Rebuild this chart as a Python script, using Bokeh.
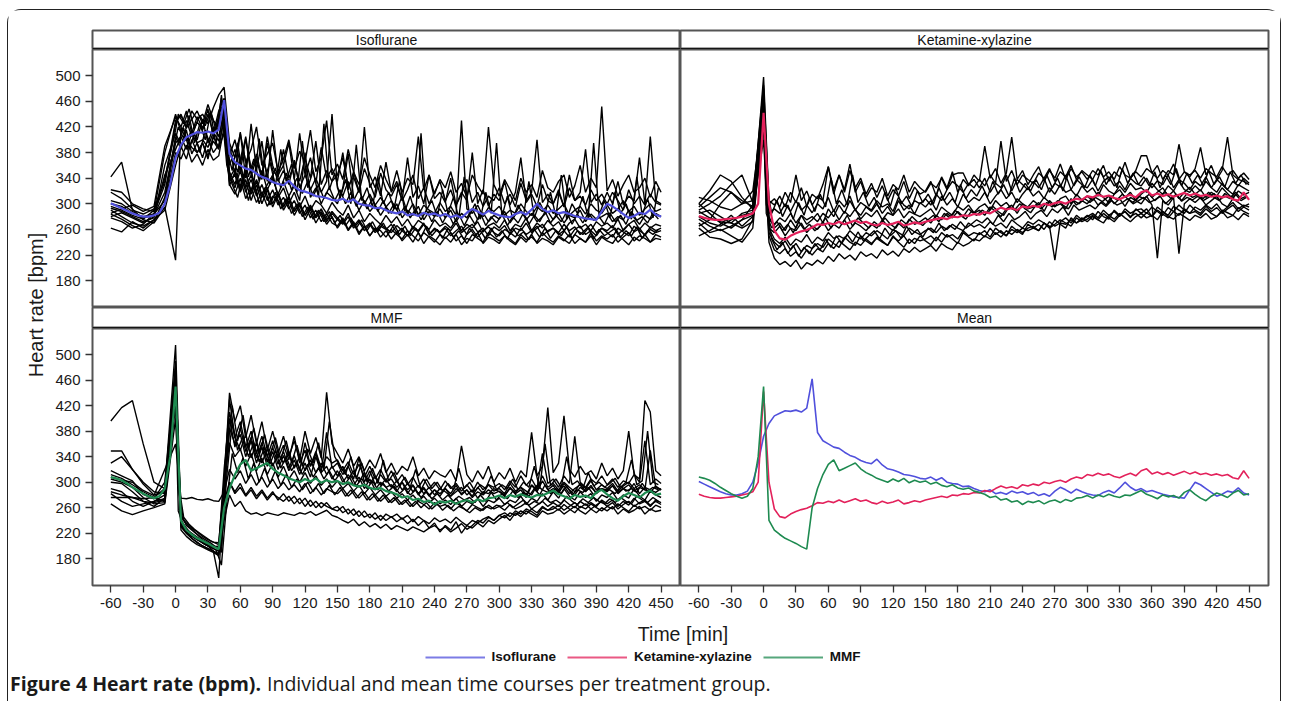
import math
from bokeh.plotting import figure
from bokeh.models import Range1d, FixedTicker, Label, Legend, LegendItem, Span, ColumnDataSource
from bokeh.layouts import column, row
from bokeh.embed import file_html
from bokeh.resources import INLINE

# ---------------- data ----------------
PRE_T = [-60, -50, -40, -30, -20, -10]
POST_T = list(range(0, 455, 5))
IND_T = PRE_T + POST_T                                   # animals sampled on the 5-min grid
OFF_T = PRE_T + [0] + [t + 2.5 for t in range(0, 450, 5)]  # animals sampled on the shifted grid
MEAN_T = list(range(-60, 455, 5))

X_TICKS = list(range(-60, 451, 30))
Y_TICKS = [180, 220, 260, 300, 340, 380, 420, 460, 500]

PANEL_TITLES = ["Isoflurane", "Ketamine-xylazine", "MMF", "Mean"]
GROUPS = ["Isoflurane", "Ketamine-xylazine", "MMF"]

ISO_MEAN = [301, 297, 293, 289, 285, 282, 280, 280, 282, 286, 300, 330,
            372, 392, 404, 408, 412, 411, 413, 410, 416, 462,
            378, 365, 360, 355, 353, 347, 342, 339, 334, 331,
            329, 336, 327, 321, 319, 316, 312, 311, 309, 306,
            305, 308, 303, 307, 300, 298, 297, 293, 294, 290,
            287, 285, 288, 282, 284, 281, 286, 283, 285, 281,
            284, 279, 282, 278, 286, 292, 288, 283, 289, 285,
            282, 280, 279, 284, 287, 283, 291, 300, 292, 287,
            290, 285, 287, 284, 281, 279, 277, 276, 275, 288,
            300, 296, 290, 284, 278, 281, 286, 284, 291, 283,
            280]
KET_MEAN = [281, 278, 276, 275, 275, 276, 277, 278, 280, 282, 285, 300,
            442, 300, 258, 246, 244, 250, 254, 257, 259, 263,
            268, 267, 270, 268, 272, 268, 271, 274, 270, 272,
            268, 266, 270, 267, 269, 272, 266, 268, 271, 269,
            272, 274, 276, 278, 276, 280, 279, 282, 281, 284,
            283, 287, 285, 290, 294, 291, 293, 290, 296, 294,
            297, 295, 300, 298, 301, 303, 300, 305, 308, 306,
            312, 310, 314, 311, 313, 309, 307, 311, 314, 310,
            318, 321, 313, 316, 312, 315, 311, 314, 317, 313,
            316, 312, 314, 311, 313, 310, 312, 307, 305, 318,
            306]
MMF_MEAN = [308, 306, 303, 298, 292, 287, 282, 278, 275, 278, 290, 340,
            450, 240, 225, 218, 212, 208, 204, 199, 195, 260,
            290, 312, 328, 335, 318, 322, 326, 330, 321, 315,
            311, 306, 303, 300, 305, 301, 306, 299, 303, 300,
            302, 297, 300, 295, 293, 296, 291, 289, 291, 286,
            284, 281, 276, 278, 272, 274, 269, 271, 265, 270,
            268, 271, 266, 270, 272, 268, 273, 270, 275, 276,
            279, 275, 280, 277, 281, 278, 276, 280, 279, 283,
            287, 281, 278, 274, 280, 277, 279, 275, 284, 288,
            281, 275, 271, 278, 283, 280, 276, 283, 287, 280,
            282]

# individual animals on IND_T: 6 pre-values (-60..-10) + 91 values (0..450 by 5)
ISO_1 = [342, 365, 290, 284, 292, 335,
         430, 438, 420, 445, 432, 440, 425, 450, 470, 482,
         395, 372, 410, 365, 385, 420, 360, 378, 395, 350,
         370, 400, 355, 382, 365, 415, 350, 372, 430, 345,
         362, 338, 385, 350, 330, 372, 345, 325, 360, 338,
         320, 352, 318, 340, 330, 405, 322, 345, 315, 338,
         325, 350, 318, 332, 310, 345, 328, 315, 420, 330,
         312, 338, 322, 305, 340, 318, 330, 310, 352, 325,
         318, 335, 345, 310, 328, 360, 318, 340, 325, 452,
         320, 338, 312, 330, 345, 318, 325, 340, 310, 335,
         318]
ISO_2 = [322, 318, 300, 292, 288, 380,
         440, 412, 430, 405, 428, 415, 440, 410, 445, 465,
         360, 385, 350, 402, 345, 370, 338, 395, 352, 342,
         385, 340, 362, 335, 372, 340, 398, 330, 352, 335,
         345, 372, 328, 342, 318, 355, 332, 310, 348, 322,
         312, 330, 305, 322, 345, 308, 325, 300, 318, 335,
         305, 322, 298, 315, 338, 302, 318, 296, 312, 305,
         325, 300, 315, 295, 332, 305, 318, 400, 302, 315,
         300, 318, 295, 325, 305, 312, 298, 322, 305, 315,
         300, 318, 305, 290, 322, 300, 312, 298, 405, 305,
         300]
ISO_3 = [318, 308, 292, 275, 270, 295,
         212, 420, 398, 415, 400, 432, 395, 420, 405, 445,
         350, 330, 362, 325, 345, 318, 352, 322, 340, 315,
         335, 312, 328, 305, 380, 310, 325, 300, 318, 310,
         300, 325, 378, 310, 290, 305, 288, 298, 282, 295,
         285, 300, 278, 290, 282, 296, 275, 288, 280, 292,
         278, 290, 272, 285, 278, 292, 275, 286, 272, 282,
         276, 288, 270, 283, 290, 275, 285, 272, 280, 288,
         275, 285, 270, 282, 278, 290, 272, 284, 276, 280,
         285, 272, 280, 275, 290, 278, 268, 282, 276, 285,
         280]
ISO_4 = [300, 296, 285, 280, 284, 305,
         395, 405, 385, 410, 395, 400, 388, 412, 398, 450,
         340, 355, 325, 348, 320, 338, 315, 330, 345, 310,
         325, 300, 318, 295, 312, 290, 305, 298, 285, 302,
         290, 282, 298, 278, 290, 272, 285, 276, 268, 282,
         270, 280, 265, 276, 262, 274, 268, 260, 275, 265,
         270, 262, 275, 258, 268, 262, 272, 256, 266, 270,
         262, 275, 258, 268, 264, 278, 258, 270, 262, 274,
         265, 272, 258, 270, 276, 262, 268, 258, 272, 265,
         270, 262, 276, 258, 268, 274, 260, 270, 262, 268,
         265]
ISO_5 = [293, 288, 280, 272, 278, 360,
         410, 392, 402, 388, 380, 395, 375, 398, 385, 440,
         330, 315, 340, 308, 325, 302, 318, 296, 312, 305,
         295, 312, 288, 302, 282, 298, 280, 292, 275, 288,
         278, 270, 285, 265, 275, 262, 270, 258, 268, 262,
         255, 266, 258, 250, 262, 256, 268, 252, 260, 255,
         262, 250, 258, 265, 252, 260, 248, 258, 264, 255,
         250, 260, 255, 248, 262, 252, 258, 265, 250, 258,
         262, 252, 258, 248, 260, 265, 252, 258, 250, 262,
         255, 248, 262, 256, 250, 265, 258, 252, 260, 255,
         258]
ISO_6 = [290, 280, 270, 265, 275, 300,
         380, 370, 392, 365, 378, 360, 385, 368, 375, 420,
         345, 325, 352, 318, 338, 312, 330, 305, 322, 298,
         310, 292, 305, 285, 298, 278, 290, 272, 285, 270,
         265, 278, 260, 272, 255, 265, 250, 262, 258, 248,
         260, 252, 245, 258, 250, 242, 255, 248, 240, 252,
         246, 255, 242, 250, 238, 252, 246, 240, 255, 248,
         242, 250, 245, 238, 252, 244, 248, 240, 255, 246,
         240, 250, 244, 238, 252, 246, 240, 255, 242, 250,
         245, 252, 240, 248, 255, 242, 250, 246, 240, 252,
         248]
ISO_7 = [278, 272, 262, 268, 285, 330,
         425, 440, 418, 432, 445, 425, 455, 430, 420, 460,
         375, 400, 362, 405, 350, 378, 342, 405, 360, 335,
         352, 330, 368, 325, 345, 322, 340, 318, 335, 440,
         325, 312, 335, 305, 322, 300, 315, 298, 310, 295,
         305, 290, 312, 285, 300, 282, 298, 290, 285, 302,
         288, 296, 282, 430, 292, 285, 298, 280, 294, 288,
         296, 282, 290, 285, 300, 288, 282, 295, 288, 298,
         285, 292, 300, 282, 290, 296, 284, 300, 290, 285,
         298, 285, 292, 305, 288, 296, 282, 292, 300, 288,
         292]
ISO_8 = [262, 256, 272, 262, 275, 290,
         360, 390, 370, 400, 380, 395, 370, 405, 388, 410,
         335, 345, 320, 352, 315, 335, 310, 325, 300, 318,
         295, 310, 288, 300, 282, 295, 278, 288, 272, 285,
         275, 268, 280, 262, 272, 258, 268, 255, 265, 260,
         268, 255, 262, 250, 265, 258, 270, 252, 262, 256,
         265, 258, 270, 255, 262, 268, 256, 262, 250, 264,
         258, 266, 252, 262, 258, 270, 255, 262, 268, 256,
         262, 255, 268, 258, 264, 252, 260, 268, 255, 262,
         258, 266, 252, 260, 268, 256, 262, 250, 264, 258,
         262]
ISO_9 = [285, 292, 298, 288, 296, 390,
         435, 420, 445, 410, 436, 418, 448, 405, 430, 455,
         390, 345, 412, 340, 425, 352, 398, 335, 415, 345,
         360, 395, 338, 410, 345, 372, 332, 388, 340, 355,
         335, 380, 322, 350, 318, 420, 325, 342, 312, 365,
         318, 335, 305, 372, 310, 328, 300, 345, 308, 318,
         302, 340, 298, 318, 305, 380, 300, 322, 296, 315,
         305, 335, 298, 318, 372, 302, 315, 296, 330, 305,
         300, 322, 296, 345, 305, 318, 385, 302, 315, 298,
         318, 300, 335, 298, 312, 305, 372, 300, 315, 302,
         298]
ISO_10 = [284, 276, 266, 258, 272, 310,
          405, 385, 415, 378, 395, 372, 402, 380, 392, 430,
          328, 350, 318, 338, 305, 330, 300, 322, 295, 315,
          290, 305, 282, 298, 275, 292, 270, 285, 268, 280,
          262, 275, 258, 270, 252, 265, 250, 262, 248, 258,
          245, 256, 242, 252, 240, 255, 238, 250, 244, 236,
          248, 240, 252, 236, 246, 242, 255, 238, 248, 244,
          238, 250, 242, 236, 248, 240, 252, 238, 246, 242,
          236, 248, 242, 252, 238, 246, 240, 250, 236, 248,
          242, 238, 250, 244, 236, 248, 242, 252, 240, 246,
          244]
# animals on OFF_T: 6 pre-values, value at 0, then 90 values (2.5..447.5 by 5)
ISO_11 = [305, 300, 288, 278, 282, 318, 400,
          420, 402, 438, 395, 425, 400, 442, 392, 470, 385,
          352, 395, 340, 378, 332, 402, 338, 365, 328, 385,
          335, 362, 318, 398, 325, 352, 312, 425, 322, 348,
          308, 338, 300, 392, 305, 325, 295, 342, 300, 318,
          292, 335, 288, 312, 282, 410, 290, 305, 280, 322,
          285, 310, 278, 342, 282, 300, 276, 318, 285, 395,
          280, 312, 276, 298, 282, 335, 278, 302, 285, 318,
          280, 345, 276, 300, 285, 312, 278, 395, 282, 305,
          278, 318, 285, 300, 276, 342, 282, 308, 278, 325]
ISO_12 = [280, 286, 278, 270, 280, 345, 385,
          395, 418, 385, 410, 380, 415, 390, 420, 452, 360,
          330, 310, 345, 305, 335, 300, 325, 298, 318, 292,
          308, 285, 300, 280, 295, 276, 290, 272, 288, 270,
          282, 266, 278, 262, 275, 258, 272, 256, 270, 254,
          268, 252, 265, 250, 262, 248, 265, 250, 260, 246,
          262, 248, 258, 244, 262, 250, 258, 245, 262, 248,
          258, 245, 262, 250, 256, 244, 260, 248, 262, 246,
          258, 250, 264, 246, 258, 252, 262, 245, 260, 250,
          256, 262, 248, 258, 250, 264, 246, 258, 252, 260]
ISO_13 = [296, 290, 282, 276, 290, 340, 415,
          440, 425, 448, 418, 438, 422, 445, 415, 465, 400,
          372, 350, 388, 342, 370, 336, 362, 330, 356, 325,
          348, 322, 340, 316, 335, 312, 330, 308, 326, 305,
          322, 300, 318, 296, 312, 292, 308, 288, 305, 285,
          300, 282, 296, 278, 292, 275, 290, 272, 288, 270,
          286, 268, 284, 266, 282, 268, 285, 266, 280, 270,
          284, 266, 280, 270, 286, 268, 282, 272, 288, 270,
          282, 272, 288, 268, 284, 270, 286, 274, 280, 268,
          286, 272, 282, 268, 288, 274, 280, 270, 286, 276]

KET_1 = [300, 320, 345, 335, 310, 292,
         498, 305, 298, 312, 295, 318, 302, 325, 296, 315,
         308, 330, 358, 322, 345, 318, 352, 325, 340, 315,
         332, 310, 328, 305, 322, 312, 335, 308, 326, 315,
         320, 335, 312, 342, 325, 350, 318, 338, 328, 345,
         335, 390, 340, 355, 332, 348, 404, 338, 352, 330,
         345, 358, 335, 352, 340, 362, 338, 355, 342, 350,
         338, 352, 345, 360, 335, 350, 342, 365, 340, 352,
         375, 375, 348, 360, 338, 352, 345, 393, 350, 342,
         355, 388, 345, 360, 338, 352, 404, 345, 338, 335,
         330]
KET_2 = [290, 300, 312, 330, 345, 302,
         470, 285, 292, 285, 300, 288, 305, 290, 298, 286,
         300, 292, 310, 288, 305, 295, 312, 290, 302, 296,
         290, 305, 295, 300, 288, 310, 298, 292, 305, 300,
         308, 298, 315, 305, 322, 345, 348, 348, 330, 338,
         325, 340, 318, 332, 325, 345, 320, 338, 330, 322,
         335, 325, 340, 318, 332, 326, 345, 322, 338, 330,
         325, 338, 320, 335, 342, 328, 335, 322, 340, 332,
         328, 340, 325, 336, 330, 345, 325, 338, 332, 322,
         335, 328, 342, 325, 338, 330, 322, 335, 328, 340,
         332]
KET_3 = [280, 270, 265, 275, 282, 286,
         455, 275, 268, 278, 272, 285, 270, 282, 275, 280,
         272, 285, 278, 290, 275, 288, 280, 292, 276, 286,
         280, 290, 275, 286, 282, 292, 278, 288, 284, 280,
         286, 292, 280, 295, 288, 282, 296, 290, 298, 286,
         295, 300, 290, 305, 296, 302, 292, 308, 300, 295,
         305, 298, 310, 302, 295, 308, 312, 300, 315, 306,
         312, 305, 318, 310, 302, 315, 322, 310, 318, 305,
         315, 322, 310, 318, 325, 312, 320, 308, 318, 326,
         315, 322, 310, 318, 312, 325, 316, 308, 320, 314,
         318]
KET_4 = [270, 255, 260, 250, 240, 262,
         440, 262, 255, 265, 250, 262, 258, 270, 255, 265,
         260, 272, 258, 268, 262, 275, 260, 270, 265, 258,
         268, 262, 275, 265, 258, 270, 262, 276, 268, 272,
         278, 270, 282, 275, 285, 278, 288, 280, 292, 285,
         290, 282, 295, 288, 280, 292, 298, 285, 300, 292,
         295, 302, 288, 305, 296, 300, 292, 308, 298, 305,
         300, 310, 298, 305, 312, 300, 308, 296, 310, 305,
         300, 312, 298, 215, 305, 298, 310, 222, 300, 308,
         302, 310, 298, 305, 312, 300, 295, 308, 302, 296,
         300]
KET_5 = [262, 248, 245, 238, 245, 275,
         420, 250, 228, 222, 230, 218, 225, 215, 228, 220,
         230, 225, 238, 230, 242, 235, 228, 240, 235, 245,
         238, 246, 240, 235, 248, 242, 250, 238, 246, 242,
         245, 250, 242, 255, 248, 252, 245, 258, 250, 255,
         252, 258, 248, 262, 255, 250, 260, 255, 262, 258,
         262, 268, 260, 272, 265, 270, 268, 275, 270, 278,
         272, 280, 275, 270, 282, 276, 285, 278, 272, 280,
         285, 278, 282, 275, 288, 280, 276, 285, 280, 274,
         282, 278, 285, 276, 280, 288, 278, 282, 275, 285,
         280]
KET_6 = [285, 290, 280, 270, 285, 290,
         400, 240, 215, 205, 210, 202, 212, 198, 208, 204,
         212, 206, 218, 210, 222, 214, 220, 212, 225, 218,
         222, 215, 228, 220, 226, 218, 230, 224, 232, 225,
         230, 235, 226, 238, 232, 228, 240, 234, 238, 245,
         242, 250, 245, 255, 248, 258, 252, 260, 255, 262,
         265, 258, 270, 262, 268, 275, 270, 265, 278, 272,
         276, 282, 275, 285, 278, 272, 282, 288, 280, 285,
         278, 286, 280, 290, 284, 278, 288, 282, 292, 285,
         288, 282, 292, 285, 280, 290, 286, 282, 294, 288,
         284]
KET_7 = [310, 305, 295, 290, 300, 320,
         450, 262, 245, 238, 248, 235, 245, 240, 252, 238,
         248, 242, 255, 246, 250, 245, 258, 250, 245, 255,
         250, 258, 252, 245, 260, 255, 250, 262, 256, 252,
         258, 262, 255, 265, 260, 268, 262, 258, 270, 264,
         268, 262, 272, 265, 270, 262, 275, 268, 262, 272,
         268, 275, 270, 265, 212, 272, 278, 270, 282, 275,
         280, 285, 278, 290, 282, 288, 280, 292, 285, 290,
         292, 285, 295, 288, 282, 294, 288, 298, 290, 285,
         295, 290, 298, 292, 300, 288, 295, 302, 292, 298,
         295]
KET_8 = [265, 275, 300, 318, 300, 305,
         485, 300, 308, 295, 318, 302, 345, 305, 320, 298,
         312, 305, 358, 315, 345, 322, 362, 318, 335, 310,
         325, 318, 340, 312, 330, 322, 345, 318, 335, 325,
         318, 332, 325, 340, 322, 335, 328, 318, 332, 325,
         338, 328, 345, 332, 398, 335, 352, 330, 345, 338,
         332, 348, 340, 355, 335, 350, 342, 360, 338, 352,
         345, 338, 355, 342, 350, 338, 358, 345, 340, 350,
         342, 355, 348, 340, 352, 345, 362, 338, 350, 345,
         352, 340, 355, 348, 342, 358, 345, 352, 340, 348,
         338]
KET_9 = [300, 285, 270, 262, 275, 298,
         465, 280, 262, 270, 258, 275, 262, 282, 268, 275,
         285, 270, 292, 280, 298, 285, 305, 290, 282, 295,
         288, 300, 285, 296, 282, 305, 290, 298, 284, 302,
         295, 305, 290, 312, 298, 308, 295, 315, 302, 310,
         305, 318, 300, 312, 322, 308, 318, 302, 315, 325,
         312, 320, 308, 325, 315, 330, 318, 322, 312, 328,
         318, 325, 312, 330, 320, 315, 328, 318, 332, 322,
         325, 318, 332, 322, 315, 328, 320, 335, 322, 318,
         328, 320, 335, 325, 318, 332, 322, 315, 330, 325,
         320]
KET_10 = [250, 258, 268, 282, 265, 280,
          430, 255, 240, 232, 242, 228, 238, 225, 235, 230,
          238, 232, 245, 238, 232, 248, 240, 235, 250, 242,
          236, 248, 242, 235, 250, 240, 232, 245, 238, 250,
          242, 236, 248, 240, 252, 245, 238, 255, 248, 242,
          255, 248, 262, 252, 258, 250, 265, 258, 252, 268,
          262, 258, 270, 262, 275, 268, 262, 278, 270, 275,
          282, 275, 288, 280, 276, 290, 282, 288, 278, 292,
          285, 292, 280, 295, 288, 282, 296, 290, 285, 298,
          290, 285, 296, 288, 294, 285, 292, 298, 288, 295,
          290]
KET_11 = [295, 310, 325, 318, 305, 296, 480,
          330, 285, 305, 280, 298, 276, 302, 282, 310, 288,
          315, 295, 340, 300, 322, 298, 345, 302, 318, 296,
          310, 292, 318, 296, 325, 300, 312, 295, 320, 302,
          315, 300, 325, 305, 318, 302, 330, 308, 322, 312,
          328, 310, 335, 315, 330, 312, 340, 318, 332, 320,
          338, 322, 345, 325, 340, 320, 350, 328, 342, 325,
          345, 328, 352, 330, 345, 325, 355, 332, 348, 330,
          342, 328, 350, 325, 345, 330, 355, 328, 348, 332,
          345, 328, 352, 330, 342, 326, 350, 332, 345, 330]
KET_12 = [276, 265, 258, 265, 275, 282, 460,
          300, 245, 228, 240, 222, 235, 218, 232, 222, 238,
          228, 245, 232, 250, 238, 252, 240, 256, 242, 250,
          258, 245, 262, 250, 258, 246, 265, 252, 260, 248,
          262, 255, 270, 258, 266, 260, 272, 262, 268, 275,
          270, 278, 268, 282, 272, 285, 275, 280, 288, 276,
          285, 290, 280, 292, 286, 295, 282, 298, 290, 294,
          298, 292, 302, 296, 305, 298, 302, 308, 300, 305,
          310, 302, 306, 312, 300, 308, 315, 304, 310, 306,
          312, 305, 310, 316, 306, 312, 308, 315, 305, 310]
KET_13 = [288, 278, 272, 270, 262, 272, 440,
          285, 262, 272, 258, 268, 255, 272, 260, 268, 258,
          265, 278, 262, 275, 268, 282, 265, 278, 270, 262,
          272, 265, 278, 268, 262, 275, 268, 280, 272, 266,
          275, 282, 272, 285, 278, 290, 282, 276, 288, 282,
          290, 285, 296, 288, 282, 295, 290, 300, 292, 286,
          298, 292, 302, 295, 305, 298, 292, 305, 300, 308,
          302, 310, 305, 298, 312, 306, 315, 308, 302, 312,
          308, 315, 305, 312, 318, 308, 314, 305, 316, 310,
          314, 308, 318, 310, 305, 316, 310, 318, 308, 312]

MMF_1 = [396, 417, 428, 360, 300, 290,
         515, 240, 228, 218, 212, 205, 200, 192, 150, 300,
         440, 395, 420, 370, 405, 360, 395, 350, 380, 345,
         372, 340, 365, 335, 380, 345, 370, 338, 441, 360,
         345, 330, 352, 325, 340, 318, 335, 322, 345, 315,
         330, 312, 325, 318, 340, 310, 322, 305, 318, 312,
         308, 320, 302, 357, 312, 300, 318, 305, 325, 300,
         315, 305, 322, 300, 318, 308, 378, 310, 325, 417,
         315, 330, 404, 320, 308, 325, 312, 318, 305, 330,
         310, 322, 305, 318, 380, 312, 305, 428, 410, 318,
         310]
MMF_2 = [349, 349, 320, 297, 280, 285,
         480, 235, 222, 215, 210, 205, 200, 196, 192, 280,
         385, 360, 375, 340, 365, 330, 355, 325, 348, 320,
         342, 318, 335, 312, 330, 308, 340, 315, 325, 305,
         318, 300, 312, 295, 308, 290, 305, 288, 300, 292,
         296, 285, 300, 282, 295, 280, 290, 278, 288, 282,
         290, 278, 285, 292, 280, 288, 275, 285, 282, 290,
         285, 278, 292, 282, 288, 276, 295, 285, 302, 288,
         295, 282, 298, 288, 280, 292, 285, 295, 282, 290,
         285, 295, 282, 290, 286, 298, 282, 292, 288, 284,
         290]
MMF_3 = [318, 310, 302, 281, 274, 300,
         470, 250, 232, 225, 218, 210, 205, 200, 198, 300,
         362, 340, 352, 325, 345, 318, 338, 312, 330, 308,
         325, 305, 318, 300, 315, 298, 310, 295, 305, 292,
         302, 290, 298, 286, 295, 282, 292, 280, 288, 278,
         285, 275, 282, 272, 280, 270, 278, 268, 275, 266,
         272, 265, 275, 262, 270, 266, 274, 262, 272, 268,
         275, 265, 272, 268, 278, 265, 275, 270, 282, 272,
         285, 275, 290, 278, 272, 285, 276, 282, 270, 280,
         276, 284, 272, 280, 275, 290, 278, 272, 286, 280,
         276]
MMF_4 = [308, 303, 300, 287, 279, 320,
         360, 275, 274, 276, 273, 272, 274, 271, 270, 285,
         320, 305, 318, 298, 312, 295, 308, 292, 305, 290,
         300, 288, 296, 285, 298, 282, 292, 280, 290, 285,
         282, 290, 278, 286, 275, 284, 272, 280, 270, 278,
         268, 275, 265, 272, 262, 270, 265, 258, 268, 262,
         265, 258, 268, 262, 255, 265, 260, 256, 264, 258,
         262, 256, 265, 258, 262, 268, 258, 264, 270, 262,
         268, 262, 272, 265, 260, 270, 264, 268, 262, 272,
         266, 272, 262, 270, 264, 275, 266, 270, 262, 272,
         268]
MMF_5 = [305, 300, 292, 276, 266, 268,
         440, 230, 220, 212, 206, 200, 196, 192, 188, 240,
         280, 262, 270, 255, 250, 252, 248, 252, 250, 248,
         252, 250, 248, 252, 250, 254, 248, 252, 256, 248,
         245, 240, 236, 242, 232, 238, 230, 235, 228, 234,
         226, 232, 228, 224, 230, 226, 222, 228, 232, 225,
         230, 222, 228, 235, 226, 232, 240, 236, 245, 240,
         248, 244, 252, 248, 255, 250, 258, 252, 262, 256,
         258, 264, 256, 262, 268, 260, 266, 258, 264, 270,
         262, 268, 258, 265, 270, 262, 268, 272, 264, 270,
         265]
MMF_6 = [276, 276, 276, 274, 276, 269,
         420, 225, 215, 208, 202, 198, 194, 190, 185, 270,
         300, 285, 298, 280, 292, 278, 288, 275, 285, 272,
         282, 270, 278, 266, 275, 262, 270, 260, 268, 258,
         262, 252, 258, 248, 255, 245, 250, 242, 248, 240,
         246, 238, 244, 235, 242, 232, 240, 228, 236, 222,
         232, 225, 238, 220, 232, 228, 236, 230, 240, 235,
         242, 248, 240, 252, 246, 255, 250, 245, 255, 250,
         252, 258, 250, 256, 262, 255, 250, 258, 252, 260,
         255, 262, 250, 258, 252, 256, 262, 250, 258, 254,
         256]
MMF_7 = [266, 255, 249, 255, 260, 266,
         400, 235, 222, 216, 210, 206, 202, 198, 200, 320,
         410, 370, 395, 355, 380, 345, 372, 340, 365, 338,
         358, 335, 372, 330, 350, 325, 348, 322, 340, 330,
         335, 318, 332, 312, 328, 308, 325, 305, 320, 302,
         318, 300, 312, 296, 308, 292, 305, 290, 300, 288,
         302, 290, 298, 286, 296, 284, 300, 288, 296, 292,
         298, 288, 302, 292, 310, 295, 305, 290, 345, 298,
         305, 292, 310, 298, 372, 300, 292, 305, 298, 310,
         296, 305, 292, 302, 298, 312, 300, 365, 296, 305,
         298]
MMF_8 = [290, 285, 270, 262, 270, 280,
         455, 245, 236, 228, 222, 215, 210, 206, 205, 300,
         430, 370, 350, 375, 338, 362, 330, 352, 325, 345,
         330, 348, 322, 340, 318, 335, 315, 330, 312, 325,
         310, 325, 305, 318, 300, 315, 298, 310, 295, 305,
         292, 302, 288, 298, 285, 295, 282, 292, 280, 290,
         285, 278, 290, 282, 288, 276, 285, 280, 288, 282,
         286, 280, 290, 284, 292, 286, 280, 295, 288, 284,
         290, 286, 294, 282, 290, 296, 286, 292, 284, 290,
         288, 294, 284, 290, 296, 286, 292, 288, 284, 294,
         288]
MMF_9 = [300, 298, 285, 270, 262, 275,
         465, 238, 226, 220, 214, 208, 204, 200, 196, 290,
         400, 355, 385, 348, 370, 338, 362, 332, 355, 328,
         348, 322, 342, 318, 362, 325, 345, 315, 378, 322,
         330, 312, 325, 305, 338, 300, 318, 296, 312, 300,
         305, 292, 300, 288, 296, 282, 292, 280, 288, 278,
         290, 282, 295, 280, 288, 278, 292, 282, 296, 286,
         290, 282, 298, 286, 292, 280, 296, 288, 310, 292,
         298, 288, 300, 292, 285, 298, 290, 302, 288, 296,
         290, 298, 286, 294, 300, 290, 296, 288, 350, 292,
         288]
MMF_10 = [282, 270, 262, 266, 270, 274,
          430, 232, 220, 212, 205, 200, 196, 192, 186, 250,
          300, 282, 292, 278, 288, 274, 285, 272, 282, 276,
          270, 278, 266, 275, 262, 272, 260, 268, 262, 258,
          255, 262, 250, 258, 246, 255, 244, 252, 240, 250,
          245, 250, 242, 248, 238, 246, 240, 235, 244, 238,
          242, 236, 245, 238, 232, 240, 236, 242, 246, 240,
          248, 252, 246, 255, 250, 258, 254, 248, 260, 256,
          262, 256, 265, 258, 252, 262, 258, 266, 260, 255,
          262, 258, 266, 260, 254, 264, 258, 262, 256, 264,
          260]
MMF_11 = [330, 340, 320, 300, 285, 282, 490,
          290, 240, 230, 222, 215, 210, 205, 198, 190, 340,
          420, 365, 405, 352, 385, 345, 375, 340, 370, 335,
          365, 330, 358, 325, 352, 330, 362, 320, 395, 340,
          325, 312, 340, 305, 330, 300, 322, 298, 335, 302,
          315, 295, 308, 292, 320, 288, 305, 290, 300, 286,
          298, 288, 322, 290, 300, 286, 296, 290, 310, 288,
          296, 290, 305, 288, 300, 292, 325, 290, 360, 295,
          305, 292, 340, 296, 302, 290, 315, 294, 300, 292,
          298, 306, 292, 300, 335, 296, 302, 380, 300, 296]
MMF_12 = [285, 280, 276, 270, 268, 272, 435,
          255, 232, 222, 214, 208, 202, 198, 194, 170, 270,
          345, 315, 338, 305, 330, 300, 322, 298, 318, 295,
          312, 292, 305, 288, 300, 285, 298, 282, 295, 280,
          292, 278, 288, 275, 285, 272, 282, 270, 280, 268,
          276, 265, 272, 262, 270, 260, 268, 258, 266, 256,
          264, 255, 262, 258, 252, 260, 255, 262, 258, 264,
          262, 268, 260, 266, 272, 264, 270, 266, 275, 268,
          272, 266, 278, 270, 265, 274, 268, 276, 270, 266,
          274, 268, 276, 270, 266, 278, 272, 268, 276, 270]
MMF_13 = [312, 306, 296, 285, 276, 290, 470,
          300, 245, 234, 226, 220, 214, 208, 204, 200, 310,
          395, 350, 372, 340, 362, 332, 355, 328, 350, 322,
          340, 318, 332, 312, 328, 308, 322, 305, 318, 302,
          314, 298, 310, 294, 306, 290, 302, 288, 298, 286,
          294, 282, 290, 280, 288, 276, 285, 274, 282, 272,
          280, 270, 278, 272, 276, 268, 280, 270, 284, 272,
          282, 274, 286, 276, 284, 278, 290, 280, 296, 282,
          290, 282, 294, 280, 288, 284, 292, 280, 290, 286,
          288, 282, 294, 286, 290, 284, 298, 286, 292, 288]

ISO_LINES = [ISO_1, ISO_2, ISO_3, ISO_4, ISO_5, ISO_6, ISO_7, ISO_8, ISO_9, ISO_10]
KET_LINES = [KET_1, KET_2, KET_3, KET_4, KET_5, KET_6, KET_7, KET_8, KET_9, KET_10]
MMF_LINES = [MMF_1, MMF_2, MMF_3, MMF_4, MMF_5, MMF_6, MMF_7, MMF_8, MMF_9, MMF_10]
ISO_OFF = [ISO_11, ISO_12, ISO_13]
KET_OFF = [KET_11, KET_12, KET_13]
MMF_OFF = [MMF_11, MMF_12, MMF_13]

for grp in (ISO_LINES, KET_LINES, MMF_LINES):
    for ln in grp:
        assert len(ln) == len(IND_T), len(ln)
for grp in (ISO_OFF, KET_OFF, MMF_OFF):
    for ln in grp:
        assert len(ln) == len(OFF_T), len(ln)
for m in (ISO_MEAN, KET_MEAN, MMF_MEAN):
    assert len(m) == len(MEAN_T), len(m)

# ---------------- style ----------------
ISO_C = "#5050dc"
KET_C = "#e3215b"
MMF_C = "#1e8a50"
FONT = "Liberation Sans"
FRAME_W = 588
X_RANGE = (-77, 468)
Y_RANGE = (138, 541)
OUTLINE = "#555555"


def no_grid(f):
    for g in f.grid:
        g.visible = False


def panel(has_y, has_x, fh, left, right, bottom):
    p = figure(frame_width=FRAME_W, frame_height=fh,
               x_range=Range1d(*X_RANGE), y_range=Range1d(*Y_RANGE),
               x_axis_location="below" if has_x else None,
               y_axis_location="left" if has_y else None,
               min_border_left=left, min_border_right=right,
               min_border_top=0, min_border_bottom=bottom,
               output_backend="svg", toolbar_location=None)
    p.outline_line_color = OUTLINE
    p.outline_line_width = 2
    p.background_fill_color = "white"
    p.border_fill_color = "white"
    no_grid(p)
    for ax in p.axis:
        ax.axis_line_color = None
        ax.major_tick_in = 0
        ax.major_tick_out = 7
        ax.major_tick_line_color = "#333333"
        ax.major_tick_line_width = 1.3
        ax.minor_tick_line_color = None
        ax.major_label_text_font = FONT
        ax.major_label_text_font_size = "15px"
        ax.major_label_text_color = "#1a1a1a"
        ax.major_label_standoff = 5
    if has_x:
        p.xaxis.ticker = FixedTicker(ticks=X_TICKS)
        p.xaxis.major_label_overrides = {t: str(t) for t in X_TICKS}
    if has_y:
        p.yaxis.ticker = FixedTicker(ticks=Y_TICKS)
    return p


def strip(label, fh, left, right, top):
    s = figure(frame_width=FRAME_W, frame_height=fh,
               x_range=Range1d(0, 1), y_range=Range1d(0, 1),
               x_axis_location=None, y_axis_location=None,
               min_border_left=left, min_border_right=right,
               min_border_top=top, min_border_bottom=0,
               output_backend="svg", toolbar_location=None)
    no_grid(s)
    s.outline_line_color = OUTLINE
    s.outline_line_width = 2
    s.border_fill_color = "white"
    s.add_layout(Span(location=0, dimension="width", line_color="black", line_width=2.5))
    s.add_layout(Label(x=0.5, y=0.5, text=label, text_align="center", text_baseline="middle",
                       text_font=FONT, text_font_size="14px", text_color="#111111"))
    return s


LEFT = 43
RIGHT = 12
BOTTOM = 30

tl_s = strip(PANEL_TITLES[0], 19, LEFT, 0, 20)
tr_s = strip(PANEL_TITLES[1], 19, 0, RIGHT, 20)
bl_s = strip(PANEL_TITLES[2], 21, LEFT, 0, 0)
br_s = strip(PANEL_TITLES[3], 21, 0, RIGHT, 0)

tl = panel(True, False, 258, LEFT, 0, 0)
tr = panel(False, False, 258, 0, RIGHT, 0)
bl = panel(True, True, 257, LEFT, 0, BOTTOM)
br = panel(False, True, 257, 0, RIGHT, BOTTOM)

for p, lines, offs, mean, col in ((tl, ISO_LINES, ISO_OFF, ISO_MEAN, ISO_C),
                                  (tr, KET_LINES, KET_OFF, KET_MEAN, KET_C),
                                  (bl, MMF_LINES, MMF_OFF, MMF_MEAN, MMF_C)):
    for ln in lines:
        p.line(IND_T, ln, line_color="black", line_width=1.4)
    for ln in offs:
        p.line(OFF_T, ln, line_color="black", line_width=1.4)
    p.line(MEAN_T, mean, line_color=col, line_width=2.2)

for mean, col in ((ISO_MEAN, ISO_C), (KET_MEAN, KET_C), (MMF_MEAN, MMF_C)):
    br.line(MEAN_T, mean, line_color=col, line_width=1.6)

# y-axis title column
YL_W, YL_H = 41, 605
ylab = figure(frame_width=YL_W, frame_height=YL_H, x_range=Range1d(0, YL_W), y_range=Range1d(0, YL_H),
              x_axis_location=None, y_axis_location=None,
              min_border_left=0, min_border_right=0, min_border_top=0, min_border_bottom=0,
              output_backend="svg", toolbar_location=None)
no_grid(ylab)
ylab.outline_line_color = None
ylab.add_layout(Label(x=27.5, y=YL_H - 294.5, text="Heart rate [bpm]", angle=math.pi / 2,
                      text_align="center", text_baseline="middle",
                      text_font=FONT, text_font_size="20px", text_color="#1a1a1a"))

# footer: x-axis title, legend, caption
FW, FH = YL_W + LEFT + 2 * FRAME_W + RIGHT, 86
footer = figure(frame_width=FW, frame_height=FH, x_range=Range1d(0, FW), y_range=Range1d(0, FH),
                x_axis_location=None, y_axis_location=None,
                min_border_left=0, min_border_right=0, min_border_top=0, min_border_bottom=0,
                output_backend="svg", toolbar_location=None)
no_grid(footer)
footer.outline_line_color = None
footer.add_layout(Label(x=674.5, y=FH - 18.5, text="Time [min]", text_align="center",
                        text_baseline="middle", text_font=FONT, text_font_size="19.5px",
                        text_color="#1a1a1a"))
items = []
for name, col in zip(GROUPS, (ISO_C, KET_C, MMF_C)):
    src = ColumnDataSource(data=dict(x=[float("nan")], y=[float("nan")]))
    r = footer.line(x="x", y="y", source=src, line_color=col, line_width=2, line_alpha=0.75)
    items.append(LegendItem(label=name, renderers=[r]))
legend = Legend(items=items, orientation="horizontal", location=(416.5, 37),
                glyph_width=60, glyph_height=14, label_standoff=7, spacing=11,
                padding=0, margin=0, border_line_alpha=0, background_fill_alpha=0,
                label_text_font=FONT, label_text_font_size="13.5px",
                label_text_font_style="bold", label_text_color="#111111")
footer.add_layout(legend)
footer.add_layout(Label(x=1.5, y=FH - 67.5, text="Figure 4 Heart rate (bpm).", text_align="left",
                        text_baseline="middle", text_font="Open Sans", text_font_size="19.5px",
                        text_font_style="bold", text_color="#1a1a1a"))
footer.add_layout(Label(x=258.5, y=FH - 67.5,
                        text="Individual and mean time courses per treatment group.",
                        text_align="left", text_baseline="middle", text_font="Open Sans",
                        text_font_size="19.5px", text_color="#1a1a1a"))

grid = column(row(column(tl_s, tl), column(tr_s, tr)),
              row(column(bl_s, bl), column(br_s, br)))
page = column(row(ylab, grid), footer, margin=(9, 0, 0, 7),
              styles={"border-top": "1.5px solid #222", "border-left": "1.5px solid #222",
                      "border-right": "1.5px solid #222", "border-top-left-radius": "14px",
                      "border-top-right-radius": "14px"})

open("out.html", "w").write(file_html(page, INLINE))
